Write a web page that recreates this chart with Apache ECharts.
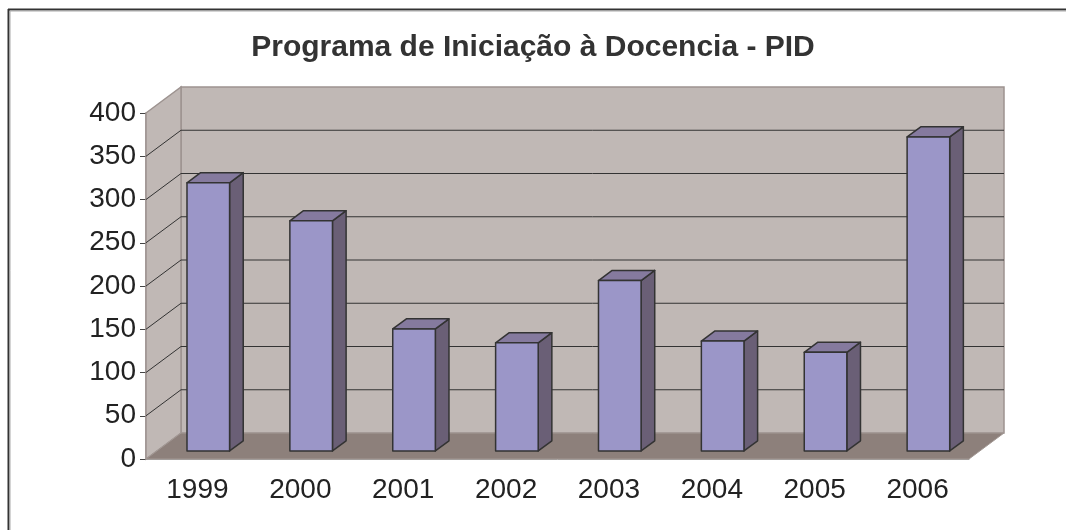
<!DOCTYPE html>
<html>
<head>
<meta charset="utf-8">
<title>Programa de Iniciação à Docencia - PID</title>
<script src="https://cdn.jsdelivr.net/npm/echarts@6/dist/echarts.min.js"></script>
<style>
  html, body { margin: 0; padding: 0; background: #fff; }
  #chart { width: 1066px; height: 530px; }
</style>
</head>
<body>
<div id="chart"></div>
<script>
  // dados do gráfico
  const anos = ['1999', '2000', '2001', '2002', '2003', '2004', '2005', '2006']
  const valores = [310, 266, 141, 125, 197, 127, 114, 363]
  const yTicks = [0, 50, 100, 150, 200, 250, 300, 350, 400]

  // profundidade do "3D" em pixels
  const DX = 35
  const DY = 26
  const F0 = 0.31   // face frontal da barra
  const F1 = 0.70   // face traseira da barra

  const chart = echarts.init(document.getElementById('chart'))

  // paredes, piso e linhas de grade
  const renderWalls = (params, api) => {
    if (params.dataIndex !== 0) return
    const cs = params.coordSys
    const x0 = cs.x
    const x1 = cs.x + cs.width
    const y0 = api.coord([0, yTicks[0]])[1]
    const yTop = api.coord([0, yTicks[yTicks.length - 1]])[1]
    const children = []
    // parede do fundo
    children.push({
      type: 'polygon',
      shape: { points: [[x0 + DX, yTop - DY], [x1 + DX, yTop - DY], [x1 + DX, y0 - DY], [x0 + DX, y0 - DY]] },
      style: { fill: '#c0b8b5', stroke: '#9d9390', lineWidth: 1.5 }
    })
    // parede lateral
    children.push({
      type: 'polygon',
      shape: { points: [[x0, yTop], [x0 + DX, yTop - DY], [x0 + DX, y0 - DY], [x0, y0]] },
      style: { fill: '#c0b8b5', stroke: '#9d9390', lineWidth: 1.5 }
    })
    // piso
    children.push({
      type: 'polygon',
      shape: { points: [[x0, y0], [x1, y0], [x1 + DX, y0 - DY], [x0 + DX, y0 - DY]] },
      style: { fill: '#8d807b', stroke: '#a39995', lineWidth: 1 }
    })
    yTicks.slice(1, -1).forEach(v => {
      const y = api.coord([0, v])[1]
      children.push({
        type: 'polyline',
        shape: { points: [[x0, y], [x0 + DX, y - DY], [x1 + DX, y - DY]] },
        style: { fill: null, stroke: '#333', lineWidth: 1 }
      })
    })
    return { type: 'group', children }
  }

  // barras com faces frontal, lateral e superior
  const renderBar = (params, api) => {
    const i = api.value(0)
    const v = api.value(1)
    const base = api.coord([i, 0])
    const top = api.coord([i, v])
    const hw = api.size([1, 0])[0] * 0.207
    const sx = DX * F0
    const sy = DY * F0
    const bx = DX * (F1 - F0)
    const by = DY * (F1 - F0)
    const xl = base[0] + sx - hw
    const xr = base[0] + sx + hw
    const yb = base[1] - sy
    const yt = top[1] - sy
    const stroke = { stroke: '#333', lineWidth: 1.5, lineJoin: 'round' }
    return {
      type: 'group',
      children: [
        {
          type: 'polygon',
          shape: { points: [[xr, yt], [xr + bx, yt - by], [xr + bx, yb - by], [xr, yb]] },
          style: Object.assign({ fill: '#6a5f76' }, stroke)
        },
        {
          type: 'polygon',
          shape: { points: [[xl, yt], [xr, yt], [xr + bx, yt - by], [xl + bx, yt - by]] },
          style: Object.assign({ fill: '#857a9e' }, stroke)
        },
        {
          type: 'polygon',
          shape: { points: [[xl, yt], [xr, yt], [xr, yb], [xl, yb]] },
          style: Object.assign({ fill: '#9b96c8' }, stroke)
        }
      ]
    }
  }

  const option = {
    animation: false,
    backgroundColor: '#fff',
    textStyle: { fontFamily: 'Liberation Sans, Arial, sans-serif' },
    title: {
      text: 'Programa de Iniciação à Docencia - PID',
      left: 'center',
      top: 28,
      textStyle: { fontSize: 30, fontWeight: 'bold', color: '#333', fontFamily: 'Liberation Sans, Arial, sans-serif' }
    },
    graphic: [
      { type: 'line', shape: { x1: 8, y1: 9.5, x2: 1066, y2: 9.5 }, style: { stroke: '#333', lineWidth: 2 } },
      { type: 'line', shape: { x1: 8.5, y1: 9, x2: 8.5, y2: 530 }, style: { stroke: '#333', lineWidth: 2 } },
      { type: 'line', shape: { x1: 10, y1: 11, x2: 1066, y2: 11 }, style: { stroke: '#aaa', lineWidth: 1 } },
      { type: 'line', shape: { x1: 10, y1: 11, x2: 10, y2: 530 }, style: { stroke: '#aaa', lineWidth: 1 } }
    ],
    grid: { left: 146, right: 97, top: 113, bottom: 71 },
    xAxis: {
      type: 'category',
      data: anos,
      boundaryGap: true,
      axisLine: { lineStyle: { color: '#a0a0a0', width: 1 } },
      axisTick: { length: 7, lineStyle: { color: '#666' } },
      axisLabel: { fontSize: 28, color: '#222', margin: 17 },
      splitLine: { show: false }
    },
    yAxis: {
      type: 'value',
      min: 0,
      max: 400,
      interval: 50,
      axisLine: { show: true, lineStyle: { color: '#9d9390', width: 1.5 } },
      axisTick: { show: true, length: 6, lineStyle: { color: '#444' } },
      axisLabel: { fontSize: 28, color: '#222', margin: 10 },
      splitLine: { show: false }
    },
    series: [
      {
        type: 'custom',
        name: 'fundo',
        z: 1,
        silent: true,
        renderItem: renderWalls,
        data: [[0, 0]]
      },
      {
        type: 'custom',
        name: 'PID',
        z: 3,
        renderItem: renderBar,
        encode: { x: 0, y: 1 },
        data: valores.map((v, i) => [i, v])
      }
    ]
  }

  chart.setOption(option)
</script>
</body>
</html>
